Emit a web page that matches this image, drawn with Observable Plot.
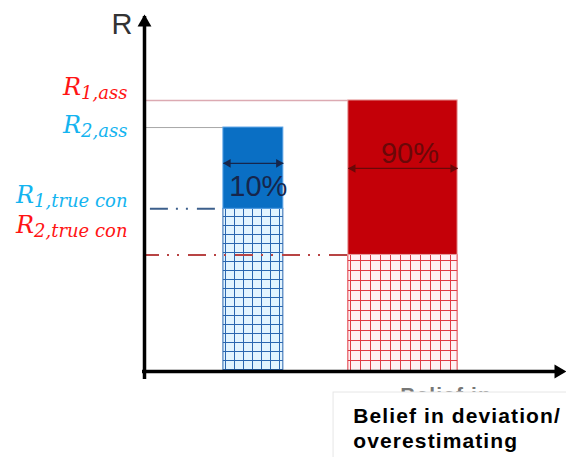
<!DOCTYPE html>
<html><head><meta charset="utf-8">
<script src="https://cdn.jsdelivr.net/npm/d3@7"></script>
<script src="https://cdn.jsdelivr.net/npm/@observablehq/plot@0.6"></script>
<style>html,body{margin:0;padding:0;background:#fff;overflow:hidden;}</style>
</head><body><div id="chart"></div>
<script>
// ---------- data ----------
const levelBase = ["R", "R", "R", "R"];
const levelSubs = ["1,ass", "2,ass", "1,true con", "2,true con"];
const levelValues = [100, 90, 60, 43];
const barNames = ["belief 10%", "belief 90%"];
const barAssessed = [90, 100];
const barTrueCon = [60, 43];
const barShares = ["10%", "90%"];
const axisLabelY = "R";
const axisLabelX = ["Belief in deviation/", "overestimating"];
const hiddenLabel = "Belief in";

// ---------- layout / style ----------
const W = 566, H = 457;
const yMax = 131.7, xMax = 100;
const barSpan = [[18.7, 32.9], [48.3, 74.2]];
const levelColors = ["#ff1414", "#14b4f0", "#14b4f0", "#ff1414"];
const levelDy = [-5, 5, -6, -22];
const captionDy = [51, 76];
const gridFill = ["url(#gridBlue)", "url(#gridRed)"];
const gridStroke = ["#2a66b0", "#e03a44"];
const solidFill = ["#0a6fc4", "#c40008"];
const solidStroke = ["#5aa2e6", "#e8a4a4"];
const shareTextY = [64.9, 76.8];
const shareTextDx = [5, 7];
const shareArrowY = [76.8, 74.9];
const shareColors = ["#16264c", "#6a0808"];
const idx = [0, 1];
const lidx = [0, 1, 2, 3];

const plot = Plot.plot({
  width: W, height: H,
  marginLeft: 144, marginRight: 0, marginTop: 14, marginBottom: 86,
  x: {domain: [0, xMax], axis: null},
  y: {domain: [0, yMax], axis: null},
  style: {fontFamily: "'Liberation Sans', Arial, sans-serif", background: "#fff"},
  marks: [
    // partially hidden label behind the caption box
    Plot.text([hiddenLabel], {x: barSpan[1][0], y: 0, dx: 52, dy: 30, text: d => d,
      textAnchor: "start", lineAnchor: "bottom", fontSize: 21, fontWeight: "bold", fill: "#777"}),
    Plot.rect([0], {x1: 44.8, x2: xMax + 2, y1: -7.75, y2: -33, fill: "#fff", stroke: "#e6e6e6"}),
    // caption
    ...axisLabelX.map((t, i) => Plot.text([t], {x: barSpan[1][0], y: 0, dx: 5, dy: captionDy[i], text: d => d,
      textAnchor: "start", lineAnchor: "bottom", fontSize: 21, fontWeight: "bold", fill: "#000"})),
    // assumed level reference lines
    Plot.ruleY([levelValues[0]], {x1: 0, x2: barSpan[1][0], stroke: "#dcaab2", strokeWidth: 1.5}),
    Plot.ruleY([levelValues[1]], {x1: 0, x2: barSpan[0][0], stroke: "#a8a8a8", strokeWidth: 1}),
    // hatched (true con) parts
    Plot.rect(idx, {x1: i => barSpan[i][0], x2: i => barSpan[i][1], y1: 0, y2: i => barTrueCon[i],
      fill: i => gridFill[i], stroke: i => gridStroke[i], strokeWidth: 1}),
    // solid parts
    Plot.rect(idx, {x1: i => barSpan[i][0], x2: i => barSpan[i][1], y1: i => barTrueCon[i], y2: i => barAssessed[i],
      fill: i => solidFill[i], stroke: i => solidStroke[i], strokeWidth: 1}),
    // dash-dot true con lines
    Plot.ruleY([levelValues[2]], {x1: 1.4, x2: 16.8, stroke: "#3c5f8c", strokeWidth: 2, strokeDasharray: "18,8,2,8,2,9"}),
    Plot.ruleY([levelValues[3]], {x1: 0, x2: barSpan[1][0], stroke: "#b84444", strokeWidth: 2, strokeDasharray: "18,8,2,8,2,9", strokeDashoffset: 3}),
    // axes
    Plot.ruleX([0], {y1: 0, y2: yMax, stroke: "#000", strokeWidth: 3.5, insetTop: 8, insetBottom: -2}),
    Plot.ruleY([0], {x1: 0, x2: xMax, stroke: "#000", strokeWidth: 3.5, insetRight: 8, insetLeft: -2}),
    Plot.dot([0], {x: 0, y: yMax, dy: 8, symbol: "triangle", r: 5.14, fill: "#000", stroke: "none"}),
    Plot.dot([0], {x: xMax, y: 0, dx: -8, symbol: "triangle", rotate: 90, r: 5.14, fill: "#000", stroke: "none"}),
    // share arrows
    Plot.link(idx, {x1: i => barSpan[i][0], x2: i => barSpan[i][1], y1: i => shareArrowY[i], y2: i => shareArrowY[i],
      stroke: i => shareColors[i], strokeWidth: 1.3}),
    Plot.dot(idx, {x: i => barSpan[i][0], y: i => shareArrowY[i], dx: 4.7, symbol: "triangle", rotate: -90, r: 3.2,
      fill: i => shareColors[i], stroke: "none"}),
    Plot.dot(idx, {x: i => barSpan[i][1], y: i => shareArrowY[i], dx: -4.7, symbol: "triangle", rotate: 90, r: 3.2,
      fill: i => shareColors[i], stroke: "none"}),
    ...idx.map(i => Plot.text([barShares[i]], {x: (barSpan[i][0] + barSpan[i][1]) / 2, y: shareTextY[i], dx: shareTextDx[i],
      text: d => d, lineAnchor: "bottom", fontSize: 29, fill: shareColors[i]})),
    // level labels (R with subscript)
    ...lidx.map(i => Plot.text([levelBase[i] + "|" + levelSubs[i]], {x: 0, y: levelValues[i], dx: -17, dy: levelDy[i],
      text: d => d, textAnchor: "end", lineAnchor: "bottom",
      fontFamily: "'DejaVu Serif', serif", fontStyle: "italic", fontSize: 24, fill: levelColors[i]})),
    // axis label
    Plot.text([axisLabelY], {x: 0, y: yMax, dx: -12, dy: 19, text: d => d, textAnchor: "end", lineAnchor: "bottom",
      fontSize: 29, fill: "#333"})
  ]
});

const svg = d3.select(plot);
const defs = svg.insert("defs", ":first-child");
const pb = defs.append("pattern").attr("id", "gridBlue").attr("patternUnits", "userSpaceOnUse")
  .attr("width", 9).attr("height", 9);
pb.append("rect").attr("width", 9).attr("height", 9).attr("fill", "#e2f4ff");
pb.append("path").attr("d", "M0,0.5H9M0.5,0V9").attr("stroke", "#2a66b0").attr("stroke-width", 1).attr("fill", "none");
const pr = defs.append("pattern").attr("id", "gridRed").attr("patternUnits", "userSpaceOnUse")
  .attr("width", 10).attr("height", 10);
pr.append("rect").attr("width", 10).attr("height", 10).attr("fill", "#fff0f2");
pr.append("path").attr("d", "M0,0.5H10M0.5,0V10").attr("stroke", "#e03a44").attr("stroke-width", 1).attr("fill", "none");

svg.selectAll("text").each(function () {
  const t = this.textContent;
  const sel = d3.select(this);
  if (t.includes("|")) {
    const [a, b] = t.split("|");
    sel.text(null);
    sel.append("tspan").text(a);
    sel.append("tspan").attr("font-size", 18).attr("dy", 4).text(b);
  } else if (axisLabelX.includes(t) || t === hiddenLabel) {
    sel.attr("letter-spacing", 1.1);
  }
});

document.getElementById("chart").appendChild(plot);
</script>
</body></html>
